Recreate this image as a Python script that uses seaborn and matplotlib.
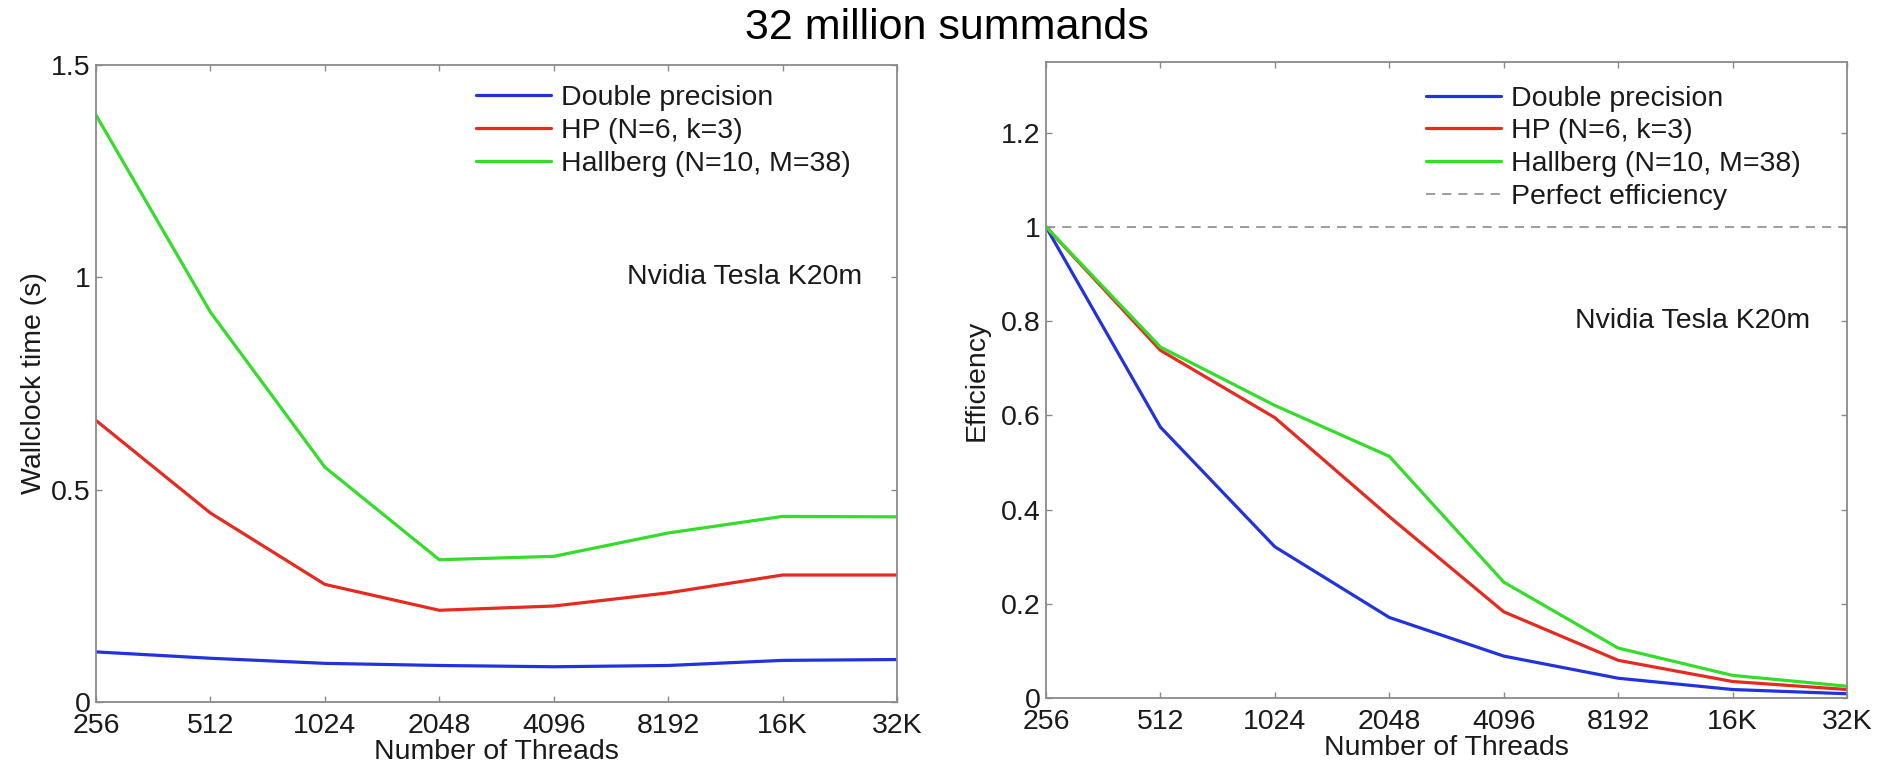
import numpy as np
import pandas as pd
import matplotlib
matplotlib.use("Agg")
import matplotlib.pyplot as plt
import seaborn as sns

# ---------------- data ----------------
threads = [256, 512, 1024, 2048, 4096, 8192, 16384, 32768]
thread_labels = ["256", "512", "1024", "2048", "4096", "8192", "16K", "32K"]
methods = ["Double precision", "HP (N=6, k=3)", "Hallberg (N=10, M=38)"]

time_double = [0.118, 0.103, 0.091, 0.086, 0.083, 0.086, 0.098, 0.100]
time_hp = [0.663, 0.445, 0.277, 0.216, 0.226, 0.257, 0.299, 0.299]
time_hallberg = [1.382, 0.918, 0.553, 0.335, 0.343, 0.398, 0.437, 0.436]

eff_double = [1.0, 0.575, 0.321, 0.171, 0.089, 0.042, 0.018, 0.009]
eff_hp = [1.0, 0.738, 0.595, 0.385, 0.183, 0.080, 0.035, 0.018]
eff_hallberg = [1.0, 0.745, 0.621, 0.513, 0.246, 0.106, 0.048, 0.025]

left_yticks = [0, 0.5, 1, 1.5]
left_yticklabels = ["0", "0.5", "1", "1.5"]
right_yticks = [0, 0.2, 0.4, 0.6, 0.8, 1.0, 1.2]
right_yticklabels = ["0", "0.2", "0.4", "0.6", "0.8", "1", "1.2"]

title = "32 million summands"
device = "Nvidia Tesla K20m"
perfect_label = "Perfect efficiency"

colors = {methods[0]: "#2233dd", methods[1]: "#e62a1f", methods[2]: "#33dd2a"}

def long_form(series):
    rows = []
    for m, vals in zip(methods, series):
        for t, v in zip(threads, vals):
            rows.append({"threads": t, "value": v, "method": m})
    return pd.DataFrame(rows)

df_time = long_form([time_double, time_hp, time_hallberg])
df_eff = long_form([eff_double, eff_hp, eff_hallberg])

# ---------------- style ----------------
sns.set_style("white")
plt.rcParams["font.family"] = ["Liberation Sans", "DejaVu Sans"]
FS = 20.5
spine_col = "#8a8a8a"
text_col = "#1a1a1a"

fig = plt.figure(figsize=(18.89, 7.65), dpi=100)
W, H = 1889, 765

def axes_px(x0, y0, x1, y1):
    return fig.add_axes([x0 / W, 1 - y1 / H, (x1 - x0) / W, (y1 - y0) / H])

ax1 = axes_px(96, 65, 897, 702)
ax2 = axes_px(1046, 62, 1847, 698)

def style_axes(ax, yticks, yticklabels, ylim):
    ax.set_xscale("log", base=2)
    ax.set_xlim(threads[0], threads[-1])
    ax.set_xticks(threads)
    ax.set_xticklabels(thread_labels)
    ax.xaxis.set_minor_locator(matplotlib.ticker.NullLocator())
    ax.set_ylim(*ylim)
    ax.set_yticks(yticks)
    ax.set_yticklabels(yticklabels)
    for s in ax.spines.values():
        s.set_color(spine_col)
        s.set_linewidth(1.3)
        s.set_visible(True)
    ax.tick_params(axis="both", which="major", direction="in", length=4.5,
                   width=1.0, color=spine_col, labelsize=FS, labelcolor=text_col,
                   top=True, right=True, bottom=True, left=True)
    ax.tick_params(axis="x", pad=8)
    ax.tick_params(axis="y", pad=4)
    ax.set_xlabel("Number of Threads", fontsize=FS, color=text_col, labelpad=0)

def make_legend(ax, y_anchor):
    handles, labels = ax.get_legend_handles_labels()
    leg = ax.legend(handles, labels, loc="upper left", bbox_to_anchor=(0.474, y_anchor),
                    frameon=False, fontsize=FS, handlelength=2.65, handletextpad=0.35,
                    labelspacing=0.24, borderpad=0, borderaxespad=0)
    for t in leg.get_texts():
        t.set_color(text_col)
    return leg

# ---------------- left: wallclock ----------------
sns.lineplot(data=df_time, x="threads", y="value", hue="method", hue_order=methods,
             palette=colors, linewidth=2.3, sort=False, estimator=None, ax=ax1)
style_axes(ax1, left_yticks, left_yticklabels, (0, 1.5))
ax1.set_ylabel("Wallclock time (s)", fontsize=FS, color=text_col, labelpad=3)
make_legend(ax1, 0.968)
ax1.text(0.956, 1.0, device, transform=ax1.get_yaxis_transform(), ha="right",
         va="center", fontsize=FS, color=text_col)

# ---------------- right: efficiency ----------------
sns.lineplot(data=df_eff, x="threads", y="value", hue="method", hue_order=methods,
             palette=colors, linewidth=2.3, sort=False, estimator=None, ax=ax2)
ax2.axhline(1.0, color="#8c8c8c", linewidth=1.2, linestyle=(0, (5.5, 4.2)),
            label=perfect_label, zorder=1)
style_axes(ax2, right_yticks, right_yticklabels, (0, 1.35))
ax2.set_ylabel("Efficiency", fontsize=FS, color=text_col, labelpad=8)
make_legend(ax2, 0.963)
ax2.text(0.954, 0.8, device, transform=ax2.get_yaxis_transform(), ha="right",
         va="center", fontsize=FS, color=text_col)

fig.text(947 / W, 1 - 28 / H, title, ha="center", va="center", fontsize=31, color="black")

fig.savefig("out.png", dpi=100, facecolor="white")
